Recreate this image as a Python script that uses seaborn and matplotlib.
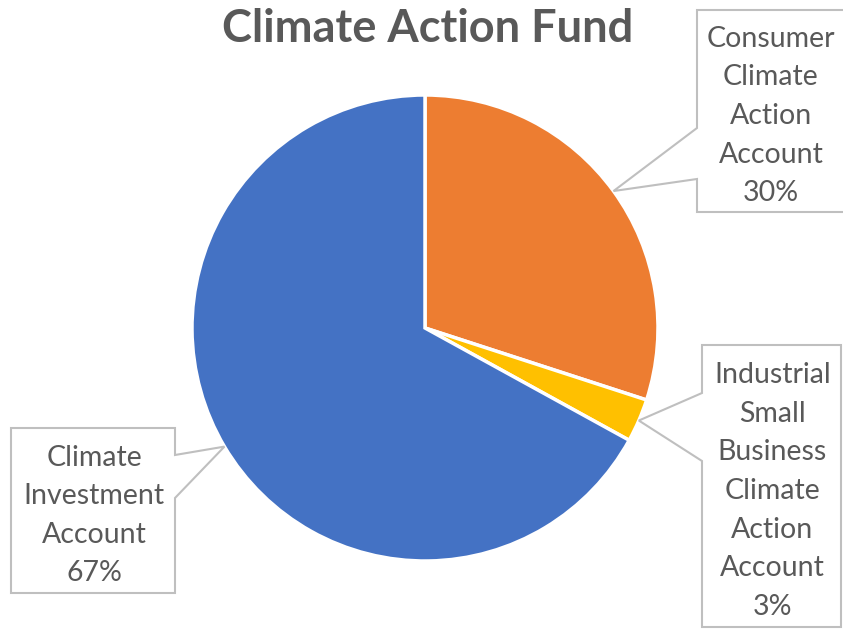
import numpy as np
import matplotlib
matplotlib.use("Agg")
import matplotlib.pyplot as plt
from matplotlib.patches import Polygon
import seaborn as sns

# Fund split
accounts = ["Consumer\nClimate\nAction\nAccount",
            "Industrial\nSmall\nBusiness\nClimate\nAction\nAccount",
            "Climate\nInvestment\nAccount"]
shares = [30, 3, 67]
title = "Climate Action Fund"

sns.set_theme(style="white")
plt.rcParams["font.family"] = ["Lato", "DejaVu Sans"]
colors = sns.color_palette(["#ED7D31", "#FFC000", "#4472C4"])

W, H = 843, 629
fig = plt.figure(figsize=(W / 100, H / 100), dpi=100)
ax = fig.add_axes([0, 0, 1, 1])

cx, cy, R = 425, H - 328, 233
wedges, _ = ax.pie(shares, colors=colors, startangle=90, counterclock=False,
                   center=(cx, cy), radius=R,
                   wedgeprops=dict(edgecolor="white", linewidth=2.5))
ax.set_xlim(0, W)
ax.set_ylim(0, H)
ax.set_aspect("equal")
ax.axis("off")

text_color = "#595959"
edge_color = "#BFBFBF"

# callout boxes: (left, top, right, bottom, pointer y1, pointer y2, side) in pixel rows
boxes = [
    (697, 10, 860, 212, 128, 179, "left"),
    (702, 345, 841, 627, 393, 461, "left"),
    (11, 428, 175, 593, 455, 498, "right"),
]

for w, label, share, (l, t, r, b, p1, p2, side) in zip(wedges, accounts, shares, boxes):
    mid = np.deg2rad((w.theta1 + w.theta2) / 2)
    tip = (cx + R * np.cos(mid), cy + R * np.sin(mid))
    T, B, P1, P2 = H - t, H - b, H - p1, H - p2
    if side == "left":
        verts = [(l, T), (r, T), (r, B), (l, B), (l, P2), tip, (l, P1)]
    else:
        verts = [(l, T), (r, T), (r, P1), tip, (r, P2), (r, B), (l, B)]
    ax.add_patch(Polygon(verts, closed=True, facecolor="white",
                         edgecolor=edge_color, linewidth=1.5, zorder=3))
    xc = (l + min(r, W)) / 2 if side == "left" else (l + r) / 2
    ax.text(xc + 1, (T + B) / 2 - 5, f"{label}\n{share}%", ha="center", va="center",
            fontsize=20.5, color=text_color, linespacing=1.6, zorder=4)

ax.text(428, H - 29, title, ha="center", va="center", fontsize=32.5,
        fontweight="bold", color=text_color)

fig.savefig("out.png", dpi=100, facecolor="white")
